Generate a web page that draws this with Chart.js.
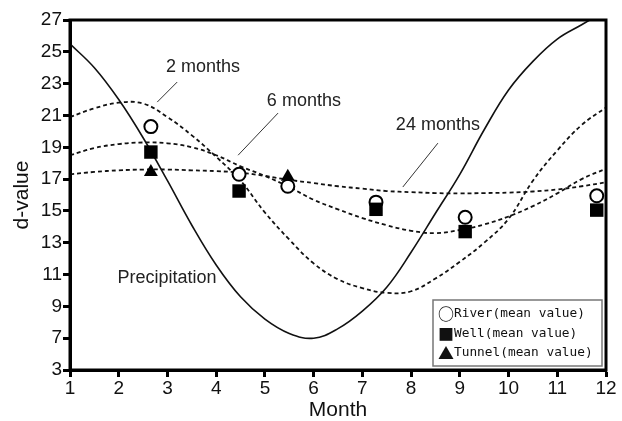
<!DOCTYPE html>
<html>
<head>
<meta charset="utf-8">
<script src="https://cdn.jsdelivr.net/npm/chart.js@4"></script>
<style>
html,body{margin:0;padding:0;background:#fff;overflow:hidden}
#wrap{position:relative;width:622px;height:421px}
</style>
</head>
<body>
<div id="wrap"><canvas id="c" width="622" height="421"></canvas></div>
<script>
// ---- data ----
const curveMonths = [1,1.5,2,2.5,3,3.5,4,4.5,5,5.5,6,6.5,7,7.5,8,8.5,9,9.5,10,10.5,11,11.5,12];
const precipitation = [25.5,24.0,22.0,19.6,16.9,14.1,11.6,9.6,8.2,7.3,7.0,7.6,8.7,10.2,12.4,14.85,17.3,20.1,22.6,24.4,25.8,26.7,27.6];
const twoMonths = [20.9,21.45,21.8,21.75,20.9,19.75,18.4,16.9,14.9,13.2,11.7,10.7,10.15,9.85,9.95,10.75,11.8,13.0,14.5,16.9,18.8,20.4,21.5];
const sixMonths = [18.5,18.95,19.2,19.3,19.25,19.0,18.5,17.8,17.2,16.5,15.7,15.1,14.55,14.1,13.75,13.6,13.8,14.15,14.65,15.3,16.1,17.0,17.65];
const twentyFourMonths = [17.3,17.45,17.55,17.6,17.6,17.55,17.5,17.4,17.2,16.95,16.75,16.55,16.4,16.25,16.18,16.12,16.1,16.12,16.15,16.22,16.35,16.55,16.8];

const riverMonths = [2.66,4.47,5.47,7.28,9.11,11.81];
const riverValues = [20.3,17.3,16.55,15.55,14.6,15.95];
const wellMonths = [2.66,4.47,7.28,9.11,11.81];
const wellValues = [18.7,16.25,15.1,13.7,15.05];
const tunnelMonths = [2.66,5.47];
const tunnelValues = [17.45,17.15];

const xTickValues = [1,2,3,4,5,6,7,8,9,10,11,12];
const xTickLabels = ['1','2','3','4','5','6','7','8','9','10','11','12'];
// the reference axis is broken: its lowest tick is labelled 3 at the step below 7
const yTickValues = [5,7,9,11,13,15,17,19,21,23,25,27];
const yTickLabels = ['3','7','9','11','13','15','17','19','21','23','25','27'];

const curveLabels = ['Precipitation','2 months','6 months','24 months'];
const legendSymbols = ['\u25CB','\u25A0','\u25B2'];
const legendLabels = ['River(mean value)','Well(mean value)','Tunnel(mean value)'];

// ---- build chart ----
const pts = (xs, ys) => xs.map((x, i) => ({x: x, y: ys[i]}));
const FONT = "'Liberation Sans', Arial, sans-serif";

const lineBase = {type: 'line', pointRadius: 0, borderColor: '#111', backgroundColor: '#111',
  fill: false, tension: 0.4, clip: 0};

const datasets = [
  Object.assign({}, lineBase, {label: curveLabels[0], data: pts(curveMonths, precipitation), borderWidth: 1.6, order: 3}),
  Object.assign({}, lineBase, {label: curveLabels[1], data: pts(curveMonths, twoMonths), borderWidth: 1.8, borderDash: [4,3], order: 4}),
  Object.assign({}, lineBase, {label: curveLabels[2], data: pts(curveMonths, sixMonths), borderWidth: 1.8, borderDash: [4,3], order: 5}),
  Object.assign({}, lineBase, {label: curveLabels[3], data: pts(curveMonths, twentyFourMonths), borderWidth: 1.8, borderDash: [4,3], order: 6}),
  {type: 'scatter', label: legendLabels[0], data: pts(riverMonths, riverValues), pointStyle: 'circle',
   pointRadius: 6.5, borderWidth: 2, borderColor: '#000', backgroundColor: '#fff', order: 2, clip: false},
  {type: 'scatter', label: legendLabels[1], data: pts(wellMonths, wellValues), pointStyle: 'rect',
   pointRadius: 9.5, borderWidth: 0, borderColor: '#000', backgroundColor: '#000', order: 1, clip: false},
  {type: 'scatter', label: legendLabels[2], data: pts(tunnelMonths, tunnelValues), pointStyle: 'triangle',
   pointRadius: 8, borderWidth: 0, borderColor: '#000', backgroundColor: '#000', order: 0, clip: false}
];

const decorPlugin = {
  id: 'decor',
  afterDatasetsDraw(chart) {
    const ctx = chart.ctx, a = chart.chartArea;
    const xs = chart.scales.x, ys = chart.scales.y;
    const X = v => xs.getPixelForValue(v), Y = v => ys.getPixelForValue(v);
    ctx.save();
    // annotations with leader lines
    ctx.fillStyle = '#222';
    ctx.font = '18px ' + FONT;
    ctx.textAlign = 'center';
    ctx.textBaseline = 'middle';
    ctx.fillText(curveLabels[1], X(3.73), Y(24.05));
    ctx.fillText(curveLabels[2], X(5.8), Y(21.9));
    ctx.fillText(curveLabels[3], X(8.55), Y(20.4));
    ctx.fillText(curveLabels[0], X(2.99), Y(10.75));
    ctx.strokeStyle = '#333';
    ctx.lineWidth = 1;
    const seg = (x1, y1, x2, y2) => { ctx.beginPath(); ctx.moveTo(X(x1), Y(y1)); ctx.lineTo(X(x2), Y(y2)); ctx.stroke(); };
    seg(2.79, 21.84, 3.2, 23.1);
    seg(5.27, 21.15, 4.45, 18.5);
    seg(8.55, 19.26, 7.83, 16.5);

    // legend box
    const bx = a.right - 173, by = a.bottom - 70, bw = 169, bh = 66;
    ctx.fillStyle = '#fff';
    ctx.fillRect(bx, by, bw, bh);
    ctx.strokeStyle = '#777';
    ctx.lineWidth = 1.5;
    ctx.strokeRect(bx, by, bw, bh);
    ctx.fillStyle = '#111';
    ctx.textAlign = 'left';
    for (let i = 0; i < legendLabels.length; i++) {
      const ty = by + 14 + i * 19.5;
      ctx.font = "bold 16px 'Noto Sans CJK JP', 'DejaVu Sans', sans-serif";
      ctx.fillText(legendSymbols[i], bx + 5, ty);
      ctx.font = "12.8px 'DejaVu Sans Mono', monospace";
      ctx.fillText(legendLabels[i], bx + 21, ty);
    }

    // frame
    ctx.strokeStyle = '#000';
    ctx.lineWidth = 3;
    ctx.strokeRect(a.left, a.top, a.right - a.left, a.bottom - a.top);
    ctx.restore();
  }
};

new Chart(document.getElementById('c'), {
  type: 'line',
  data: {datasets: datasets},
  options: {
    responsive: false,
    animation: false,
    devicePixelRatio: 1,
    layout: {padding: {top: 20, right: 16, left: 0, bottom: 0}},
    plugins: {legend: {display: false}, tooltip: {enabled: false}},
    scales: {
      x: {
        type: 'linear', min: 1, max: 12,
        afterBuildTicks: s => { s.ticks = xTickValues.map(v => ({value: v})); },
        afterFit: s => { s.height = 51; },
        ticks: {callback: (v, i) => xTickLabels[i], color: '#111', font: {family: FONT, size: 19}, padding: 0, maxRotation: 0, autoSkip: false},
        grid: {drawOnChartArea: false, drawTicks: true, tickLength: 7, tickWidth: 3, tickColor: '#000'},
        border: {display: true, width: 3, color: '#000'},
        title: {display: true, text: 'Month', color: '#111', font: {family: FONT, size: 21, lineHeight: 1}, padding: {top: 0, bottom: 0}}
      },
      y: {
        type: 'linear', min: 5, max: 27,
        afterBuildTicks: s => { s.ticks = yTickValues.map(v => ({value: v})); },
        afterFit: s => { s.width = 70; },
        ticks: {callback: (v, i) => yTickLabels[i], color: '#111', font: {family: FONT, size: 19}, padding: 1, autoSkip: false},
        grid: {drawOnChartArea: false, drawTicks: true, tickLength: 7, tickWidth: 3, tickColor: '#000'},
        border: {display: true, width: 3, color: '#000'},
        title: {display: true, text: 'd-value', color: '#111', font: {family: FONT, size: 21, lineHeight: 1.2}, padding: {top: 10, bottom: 0}}
      }
    }
  },
  plugins: [decorPlugin]
});
</script>
</body>
</html>
